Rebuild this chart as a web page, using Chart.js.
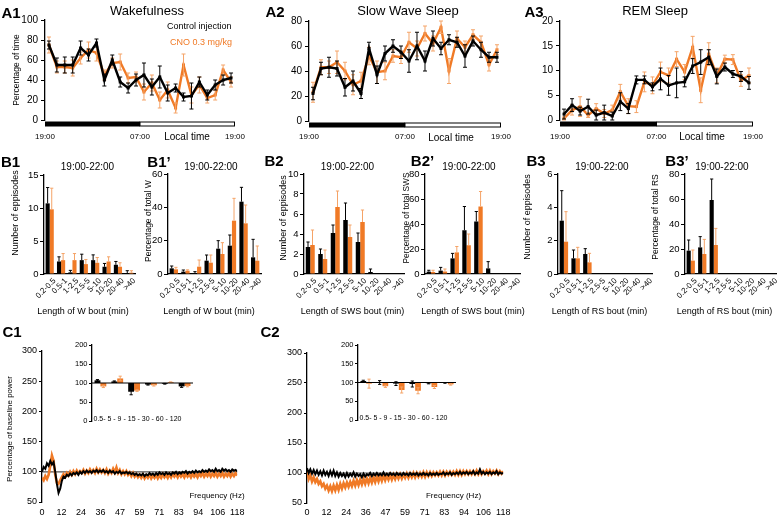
<!DOCTYPE html>
<html><head><meta charset="utf-8">
<script src="https://cdn.jsdelivr.net/npm/chart.js@4.4.1/dist/chart.umd.min.js"></script>
<style>
html,body{margin:0;padding:0;background:#fff;width:777px;height:519px;overflow:hidden;position:relative;font-family:"Liberation Sans",Arial,Helvetica,sans-serif}
.t{position:absolute;white-space:nowrap;line-height:1;color:#000;transform:translate(-50%,-50%);z-index:5}
.l{transform:translate(0,-50%)}
.r{transform:translate(-50%,-50%) rotate(-90deg)}
</style></head><body>
<script>
// ---------------- DATA ----------------
const legendLabels = ['Control injection', 'CNO 0.3 mg/kg'];
const hourLabels = ['19:00','20:00','21:00','22:00','23:00','00:00','01:00','02:00','03:00','04:00','05:00','06:00',
                    '07:00','08:00','09:00','10:00','11:00','12:00','13:00','14:00','15:00','16:00','17:00','18:00'];
const timeTickPos = [0, 12, 24];
const timeTickLabels = ['19:00', '07:00', '19:00'];
const darkPhase = [0, 12, 24];

// A1 Wakefulness (% of time)
const a1Ctrl    = [75,55,55,55,72,65,77,40,60,38,32,40,45,33,43,27,32,23,24,38,25,35,40,42];
const a1CtrlErr = [4,7,8,8,7,6,4,6,5,5,5,6,12,8,11,8,4,4,13,5,5,5,5,5];
const a1Cno     = [75,53,53,52,62,70,67,45,57,58,42,43,28,37,20,30,12,55,25,35,22,25,50,38];
const a1CnoErr  = [8,6,6,8,6,8,8,5,5,8,5,5,8,8,8,8,5,11,8,8,5,5,5,5];
// A2 Slow wave sleep
const a2Ctrl    = [22,42,43,42,27,32,22,58,37,54,60,55,48,60,48,66,58,65,63,52,64,57,51,51];
const a2CtrlErr = [5,5,8,6,7,8,4,5,7,6,5,5,9,11,8,6,5,4,4,9,4,6,4,4];
const a2Cno     = [23,43,43,47,40,29,32,52,39,40,52,51,63,58,70,62,75,40,66,59,69,63,45,57];
const a2CnoErr  = [8,6,5,9,7,8,7,7,9,7,5,5,8,6,6,6,5,10,6,5,4,5,5,4];
// A3 REM sleep
const a3Ctrl    = [1.2,3,1.8,2.7,1,1.5,0.8,3.7,2.3,8.1,8.1,6.7,8.3,7,7.5,7.7,10.9,11.7,12.7,8.8,10.7,9.3,8.8,7.5];
const a3CtrlErr = [1,1.3,0.8,1.5,1,1.5,0.8,1.8,1,0.8,0.8,0.8,2.2,2,3,1,1.5,2.5,1.5,1.5,0.8,0.7,1,1.3];
const a3Cno     = [0.3,2,2.7,1,2.3,1.3,2,5.7,2.8,2.7,7.7,7,9.7,9,12.3,9.7,14.7,6,13.3,9,12.3,12.2,8,9];
const a3CnoErr  = [0.3,1,2,0.5,1,0.8,1,1.5,1.5,1.2,2,1.7,2,1.5,1.5,1.5,2.2,2.5,2.3,1.5,0.8,1,1.2,1.5];

// B bout-length distributions, 19:00-22:00
const boutLabels = ['0.2-0.5','0.5-1','1-2.5','2.5-5','5-10','10-20','20-40','>40'];
const b1Ctrl  = [10.7,1.9,0.25,2.1,2.1,1.1,1.4,0.1];  const b1CtrlErr  = [2.4,0.7,0.3,0.9,0.8,0.5,0.5,0.4];
const b1Cno   = [9.8,2.1,2.1,1.5,1.7,1.9,1.1,0.2];    const b1CnoErr   = [3.2,1.0,1.0,0.7,0.8,0.7,0.6,0.3];
const b1pCtrl = [3.4,1.4,0.2,8,15.2,17,43.4,10];      const b1pCtrlErr = [1.4,1,1.2,3.4,4.8,6.4,8.6,10.8];
const b1pCno  = [2.8,2,4.4,6.8,12,32,30.4,8];         const b1pCnoErr  = [1.2,0.5,4,4.6,6.8,13.4,11,8.8];
const b2Ctrl  = [2.7,2,4.1,5.4,3.2,0.2,0,0];          const b2CtrlErr  = [0.5,0.5,0.8,1.7,0.9,0.3,0,0];
const b2Cno   = [2.9,1.5,6.7,3.7,5.2,0,0,0];          const b2CnoErr   = [1.5,0.9,1.6,1.2,1.2,0,0,0];
const b2pCtrl = [1.9,2.7,12.5,35,42,4.5,0,0];         const b2pCtrlErr = [1.1,2.6,4,19,8,5.4,0,0];
const b2pCno  = [1.6,2,17.3,23,54,0,0,0];             const b2pCnoErr  = [1.4,2,4.7,9,12,0,0,0];
const b3Ctrl  = [3.2,0.94,1.2,0,0,0,0,0];             const b3CtrlErr  = [1.8,0.5,0.32,0,0,0,0,0];
const b3Cno   = [1.94,0.94,0.7,0,0,0,0,0];            const b3CnoErr   = [1.8,0.66,0.54,0,0,0,0,0];
const b3pCtrl = [18.7,21.3,59.2,0,0,0,0,0];           const b3pCtrlErr = [8.5,8.6,16.8,0,0,0,0,0];
const b3pCno  = [10.7,16,23.2,0,0,0,0,0];             const b3pCnoErr  = [8.5,11.7,13.3,0,0,0,0,0];

// C power spectra (% of baseline), 1 Hz bins
const cFreq = [0,1,2,3,4,5,6,7,8,9,10,11,12,13,14,15,16,17,18,19,20,21,22,23,24,25,26,27,28,29,30,31,32,33,34,35,36,37,38,39,
  40,41,42,43,44,45,46,47,48,49,50,51,52,53,54,55,56,57,58,59,60,61,62,63,64,65,66,67,68,69,70,71,72,73,74,75,76,77,78,79,
  80,81,82,83,84,85,86,87,88,89,90,91,92,93,94,95,96,97,98,99,100,101,102,103,104,105,106,107,108,109,110,111,112,113,114,115,116,117,118];
const cTickPos = [0,11.8,23.6,35.4,47.2,59,70.8,82.6,94.4,106.2,118];
const cTickLabels = ['0','12','24','36','47','59','71','83','94','106','118'];
const c1Ctrl = [100,108,105,114,110,118,112,116,100,80, 65,72,85,92,90,95,93,97,94,98, 96,99,95,100,97,101,98,102,99,101,
  98,102,100,103,99,102,100,103,99,101, 98,102,99,101,97,100,98,101,97,99, 98,100,97,99,96,98,95,97,94,96,
  94,97,93,96,94,98,95,97,94,98, 95,99,96,98,95,99,96,98,95,99, 97,100,96,99,97,100,98,101,97,100,
  98,101,98,102,99,101,99,103,100,102, 100,104,101,103,100,105,101,103,100,105, 102,104,101,103,100,104,102,103,101];
const c1Cno = [90,86,93,88,95,110,127,118,95,82, 80,86,91,96,92,98,94,100,95,101, 96,102,97,101,98,103,97,102,98,104,
  99,103,98,105,99,104,99,103,98,104, 97,102,98,105,99,107,98,103,96,101, 96,101,95,99,93,98,92,96,91,95,
  90,95,89,94,90,95,89,94,90,95, 89,94,90,96,91,95,90,96,91,97, 92,96,91,97,92,96,91,97,92,96,
  91,97,92,96,91,97,93,98,92,97, 93,98,92,97,93,98,92,97,93,98, 92,97,93,98,92,97,93,98,94];
const c2Ctrl = [108,100,106,99,105,98,104,97,103,96, 104,97,102,95,103,96,104,95,101,94, 100,95,99,93,100,94,99,95,101,94,
  99,95,98,93,99,94,98,96,100,95, 99,96,100,96,99,96,101,96,99,96, 100,97,99,96,100,97,99,96,100,97,
  99,96,100,97,99,97,100,96,99,97, 100,97,99,96,100,97,99,97,100,97, 99,98,101,97,100,98,101,97,100,98,
  101,98,102,98,101,99,102,98,101,99, 103,98,101,99,106,99,102,98,101,99, 102,98,101,99,103,98,101,99,100];
const c2Cno = [104,90,96,86,93,85,90,82,86,78, 82,74,79,71,78,70,79,71,80,72, 82,74,83,76,84,77,85,78,87,79,
  88,80,89,81,90,82,91,83,92,84, 93,85,94,86,95,87,96,88,96,89, 97,89,97,90,98,91,98,91,98,92,
  99,92,99,93,100,93,100,94,100,94, 101,94,101,95,101,95,101,96,101,96, 102,96,102,96,102,97,102,97,102,97,
  103,97,103,97,103,98,103,98,103,98, 103,98,104,98,104,98,103,99,104,98, 104,98,103,99,104,98,103,99,103];
// C insets: band power (% of baseline)
const insetBands = ['0.5-5','5-9','9-15','15-30','30-60','60-120'];
const insetBandText = '0.5- 5 - 9 - 15 - 30 - 60 - 120';
const insetBase = 100;
const c1InsCtrl = [107,104,77,96,98,91];  const c1InsCtrlErr = [2,1.5,8,1.5,1,2.5];
const c1InsCno  = [91,112,80,94,102,92];  const c1InsCnoErr  = [3,6,2,2,1,2];
const c2InsCtrl = [104,100,97,96,98,99];  const c2InsCtrlErr = [2,5,5,8,1.5,1];
const c2InsCno  = [97,90,80,78,88,95];    const c2InsCnoErr  = [12,3,8,8,4,2];

// ---------------- STYLE / HELPERS ----------------
const FONT = '"Liberation Sans", Arial, Helvetica, sans-serif';
const BLACK = '#000000', ORANGE = '#F07A26', ORANGE_E = '#F5A468';
Chart.defaults.font.family = FONT;
Chart.defaults.color = '#000';

const errPlugin = {
  id: 'errbars',
  afterDatasetDraw(chart, args) {
    const ds = chart.data.datasets[args.index];
    if (!ds.errs) return;
    const ys = chart.scales.y, ctx = chart.ctx;
    ctx.save();
    ctx.strokeStyle = ds.errColor; ctx.lineWidth = ds.errWidth || 1;
    args.meta.data.forEach((el, i) => {
      const e = ds.errs[i]; if (!e) return;
      let v = ds.data[i], base = 0;
      if (Array.isArray(v)) { base = v[0]; v = v[1]; }
      let lo, hi, capLo = true;
      if (ds.errMode === 'both') { lo = v - e; hi = v + e; }
      else if (ds.errMode === 'up') { lo = v; hi = v + e; capLo = false; }
      else { if (v >= base) { lo = v; hi = v + e; capLo = false; } else { lo = v - e; hi = v; capLo = true; } }
      const x = el.x, y1 = ys.getPixelForValue(lo), y2 = ys.getPixelForValue(hi), c = ds.errCap || 2;
      ctx.beginPath();
      ctx.moveTo(x, y1); ctx.lineTo(x, y2);
      if (ds.errMode === 'both' || !capLo) { ctx.moveTo(x - c, y2); ctx.lineTo(x + c, y2); }
      if (ds.errMode === 'both' || capLo) { ctx.moveTo(x - c, y1); ctx.lineTo(x + c, y1); }
      ctx.stroke();
    });
    ctx.restore();
  }
};

const stripPlugin = {
  id: 'strip',
  afterDraw(chart) {
    const xt = chart.scales.xt, ctx = chart.ctx, y = chart.chartArea.bottom + 1.5, h = 5;
    const x0 = xt.getPixelForValue(darkPhase[0]), x1 = xt.getPixelForValue(darkPhase[1]), x2 = xt.getPixelForValue(darkPhase[2]);
    ctx.save();
    ctx.fillStyle = '#000'; ctx.fillRect(x0, y, x1 - x0, h);
    ctx.strokeStyle = '#000'; ctx.lineWidth = 1; ctx.strokeRect(x1, y + 0.5, x2 - x1 - 0.5, h - 1);
    ctx.restore();
  }
};

function rotLabels(dx, dy, size) {
  return { id: 'rotLabels', afterDraw(chart) {
    const xs = chart.scales.x, ctx = chart.ctx;
    ctx.save();
    ctx.font = size + 'px ' + FONT; ctx.fillStyle = '#000';
    ctx.textAlign = 'right'; ctx.textBaseline = 'middle';
    chart.data.labels.forEach((lab, i) => {
      ctx.save();
      ctx.translate(xs.getPixelForValue(i) + dx, chart.chartArea.bottom + dy);
      ctx.rotate(-Math.PI / 4);
      ctx.fillText(lab, 0, 0);
      ctx.restore();
    });
    ctx.restore();
  } };
}

function refLine(val, color, width, before) {
  const draw = chart => {
    const ctx = chart.ctx, a = chart.chartArea, y = chart.scales.y.getPixelForValue(val);
    ctx.save(); ctx.strokeStyle = color; ctx.lineWidth = width;
    ctx.beginPath(); ctx.moveTo(a.left, y); ctx.lineTo(a.right, y); ctx.stroke(); ctx.restore();
  };
  return before ? { id: 'refline', beforeDatasetsDraw: draw } : { id: 'refline', afterDatasetsDraw: draw };
}

function bandText(text, size) {
  return { id: 'bandText', afterDraw(chart) {
    const ctx = chart.ctx, a = chart.chartArea;
    ctx.save(); ctx.font = size + 'px ' + FONT; ctx.fillStyle = '#000';
    ctx.textAlign = 'left'; ctx.textBaseline = 'middle';
    ctx.fillText(text, a.left + 1.5, a.bottom - 2.3); ctx.restore();
  } };
}

function yAx(min, max, step, size, width, pad, tl) {
  return { min, max, position: 'left',
    ticks: { stepSize: step, font: { size }, color: '#000', padding: pad },
    grid: { display: true, drawOnChartArea: false, drawTicks: true, tickLength: tl, color: '#000', lineWidth: 1 },
    border: { display: true, color: '#000', width: 1.3 },
    afterFit(s) { s.width = width; } };
}

function mk(plot, pad, cfg, z) {
  const cv = document.createElement('canvas');
  const w = plot.r - plot.l + pad.l + pad.r, h = plot.b - plot.t + pad.t + pad.b;
  cv.width = w; cv.height = h;
  cv.style.cssText = `position:absolute;left:${plot.l - pad.l}px;top:${plot.t - pad.t}px;width:${w}px;height:${h}px;z-index:${z || 1}`;
  document.body.appendChild(cv);
  cfg.options = Object.assign({ responsive: false, animation: false, devicePixelRatio: 1, events: [],
    layout: { padding: { left: 0, top: pad.t, right: pad.r, bottom: 0 } } }, cfg.options);
  cfg.options.plugins = { legend: { display: false }, tooltip: { enabled: false } };
  return new Chart(cv, cfg);
}

function lineDs(label, data, errs, color, errColor) {
  return { label, data, borderColor: color, backgroundColor: color, borderWidth: 2.4, tension: 0,
    pointStyle: 'rect', pointRadius: 2.1, pointBorderWidth: 0, pointBackgroundColor: color,
    errs, errColor, errMode: 'both', errCap: 2 };
}

function aCfg(ctrl, ctrlE, cno, cnoE, ymax, ystep, xtPad, padB, padL) {
  return { type: 'line',
    data: { labels: hourLabels, datasets: [
      lineDs(legendLabels[0], ctrl, ctrlE, BLACK, BLACK),
      lineDs(legendLabels[1], cno, cnoE, ORANGE, ORANGE_E) ] },
    options: { scales: {
      x: { type: 'category', display: false, offset: true },
      xt: { type: 'linear', position: 'bottom', min: 0, max: 24,
        grid: { display: false, drawTicks: false }, border: { display: false },
        afterBuildTicks(s) { s.ticks = timeTickPos.map(v => ({ value: v })); },
        ticks: { autoSkip: false, maxRotation: 0, minRotation: 0, font: { size: 8 }, color: '#000', padding: xtPad,
          callback: (v, i) => timeTickLabels[i] },
        afterFit(s) { s.height = padB; } },
      y: yAx(0, ymax, ystep, 10, padL, 3, 4) } },
    plugins: [errPlugin, stripPlugin] };
}

function barDs(data, errs, color, errColor, cat, mode) {
  return { data, backgroundColor: color, borderWidth: 0, errs, errColor, errMode: mode, errCap: 1.6,
    barPercentage: 1, categoryPercentage: cat };
}

function bCfg(ctrl, ctrlE, cno, cnoE, ymax, ystep, padL, padB) {
  return { type: 'bar',
    data: { labels: boutLabels, datasets: [
      barDs(ctrl, ctrlE, BLACK, BLACK, 0.72, 'up'),
      barDs(cno, cnoE, ORANGE, ORANGE_E, 0.72, 'up') ] },
    options: { scales: {
      x: { offset: true, grid: { display: false, drawTicks: false }, border: { display: true, color: '#000', width: 1.3 },
        ticks: { display: false }, afterFit(s) { s.height = padB; } },
      y: yAx(0, ymax, ystep, 9.5, padL, 1.5, 4) } },
    plugins: [errPlugin, rotLabels(5, 5.5, 8)] };
}

function cCfg(ctrl, cno, xPad, padB, padL) {
  return { type: 'line',
    data: { datasets: [
      { label: legendLabels[0], data: cFreq.map((f, i) => ({ x: f, y: ctrl[i] })), borderColor: BLACK, borderWidth: 2, pointRadius: 0, tension: 0 },
      { label: legendLabels[1], data: cFreq.map((f, i) => ({ x: f, y: cno[i] })), borderColor: ORANGE, borderWidth: 2.6, pointRadius: 0, tension: 0 } ] },
    options: { scales: {
      x: { type: 'linear', min: 0, max: 118, grid: { display: false, drawTicks: false }, border: { display: false },
        afterBuildTicks(s) { s.ticks = cTickPos.map(v => ({ value: v })); },
        ticks: { autoSkip: false, maxRotation: 0, minRotation: 0, font: { size: 9 }, color: '#000', padding: xPad,
          callback: (v, i) => cTickLabels[i] },
        afterFit(s) { s.height = padB; } },
      y: yAx(50, 300, 50, 9, padL, 2, 3) } },
    plugins: [refLine(100, '#555', 1.2, true)] };
}

function insCfg(ctrl, ctrlE, cno, cnoE, padL, padB) {
  return { type: 'bar',
    data: { labels: insetBands, datasets: [
      barDs(ctrl.map(v => [insetBase, v]), ctrlE, BLACK, BLACK, 0.7, 'both'),
      barDs(cno.map(v => [insetBase, v]), cnoE, ORANGE, ORANGE_E, 0.7, 'both') ] },
    options: { scales: {
      x: { offset: true, grid: { display: false, drawTicks: false }, border: { display: false },
        ticks: { display: false }, afterFit(s) { s.height = padB; } },
      y: yAx(0, 200, 50, 7.5, padL, 1.5, 3) } },
    plugins: [errPlugin, refLine(insetBase, '#000', 1.2, false), bandText(insetBandText, 7)] };
}

// ---------------- CHARTS ----------------
mk({l:45,t:20,r:245,b:120}, {l:45,t:20,r:12,b:30}, aCfg(a1Ctrl,a1CtrlErr,a1Cno,a1CnoErr,100,20,12,30,45));
mk({l:309,t:21,r:510,b:121}, {l:40,t:21,r:12,b:29}, aCfg(a2Ctrl,a2CtrlErr,a2Cno,a2CnoErr,80,20,11,29,40));
mk({l:560,t:21,r:759,b:120}, {l:40,t:21,r:16,b:30}, aCfg(a3Ctrl,a3CtrlErr,a3Cno,a3CnoErr,20,5,12,30,40));

const bPad = {l:24,t:8,r:2,b:30};
mk({l:44,t:175,r:135,b:274}, bPad, bCfg(b1Ctrl,b1CtrlErr,b1Cno,b1CnoErr,15,5,24,30));
mk({l:168,t:174,r:261,b:274}, bPad, bCfg(b1pCtrl,b1pCtrlErr,b1pCno,b1pCnoErr,60,20,24,30));
mk({l:304,t:174,r:404,b:274}, bPad, bCfg(b2Ctrl,b2CtrlErr,b2Cno,b2CnoErr,10,2,24,30));
mk({l:425,t:174,r:520,b:274}, bPad, bCfg(b2pCtrl,b2pCtrlErr,b2pCno,b2pCnoErr,80,20,24,30));
mk({l:558,t:174,r:652,b:274}, bPad, bCfg(b3Ctrl,b3CtrlErr,b3Cno,b3CnoErr,6,2,24,30));
mk({l:685,t:174,r:777,b:274}, {l:24,t:8,r:0,b:30}, bCfg(b3pCtrl,b3pCtrlErr,b3pCno,b3pCnoErr,80,20,24,30));

mk({l:42,t:351,r:242,b:502}, {l:28,t:8,r:8,b:17}, cCfg(c1Ctrl,c1Cno,5.6,17,28));
mk({l:307,t:353,r:507,b:503}, {l:28,t:8,r:8,b:16}, cCfg(c2Ctrl,c2Cno,4.6,16,28));
mk({l:92,t:345,r:193,b:425}, {l:20,t:6,r:2,b:2}, insCfg(c1InsCtrl,c1InsCtrlErr,c1InsCno,c1InsCnoErr,20,2), 2);
mk({l:358,t:345,r:456,b:424}, {l:20,t:6,r:2,b:2}, insCfg(c2InsCtrl,c2InsCtrlErr,c2InsCno,c2InsCnoErr,20,2), 2);

// ---------------- TEXT ----------------
const texts = [
  ['A1',11,11.5,15,'b'], ['Wakefulness',147,9.5,13], [legendLabels[0],167,26,9,'l'], [legendLabels[1],170,41.5,9,'l',ORANGE],
  ['Percentage of time',16,70,8.5,'r'], ['Local time',187,137,10],
  ['A2',275,10.5,15,'b'], ['Slow Wave Sleep',408,9.5,13], ['Local time',451,138,10],
  ['A3',534,10.5,15,'b'], ['REM Sleep',655,9.5,13], ['Local time',702,137,10],
  ['B1',10.5,161,15,'b'], ['19:00-22:00',87.5,167,10], ['Number of eppisodes',15,213,9,'r'], ['Length of W bout (min)',83,310.7,9],
  ['B1\u2019',159,161,15,'b'], ['19:00-22:00',211,167,10], ['Percentage of total W',148.3,221,8.5,'r'], ['Length of W bout (min)',209,310.7,9],
  ['B2',274,160,15,'b'], ['19:00-22:00',347.5,167,10], ['Number of eppisodes',283.3,217.5,9,'r'], ['Length of SWS bout (min)',352.5,310.7,9],
  ['B2\u2019',422.5,160,15,'b'], ['19:00-22:00',469,167,10], ['Percentage of total SWS',405.5,217.5,8.3,'r'], ['Length of SWS bout (min)',473,310.7,9],
  ['B3',536,160,15,'b'], ['19:00-22:00',602,167,10], ['Number of eppisodes',527,217,9,'r'], ['Length of RS bout (min)',599.5,310.7,9],
  ['B3\u2019',677,160,15,'b'], ['19:00-22:00',722,167,10], ['Percentage of total RS',655.3,216.7,8.5,'r'], ['Length of RS bout (min)',724.5,310.7,9],
  ['C1',12,331,15,'b'], ['C2',270,331,15,'b'],
  ['Percentage of baseline power',10,428.5,8,'r'], ['Frequency (Hz)',217,496,8], ['Frequency (Hz)',453.5,496,8]
];
texts.forEach(([s, x, y, size, mode, color]) => {
  const d = document.createElement('div');
  d.className = 't' + (mode === 'r' ? ' r' : mode === 'l' ? ' l' : '');
  d.textContent = s;
  d.style.left = x + 'px'; d.style.top = y + 'px'; d.style.fontSize = size + 'px';
  if (mode === 'b') d.style.fontWeight = 'bold';
  if (color) d.style.color = color;
  document.body.appendChild(d);
});
</script>
</body></html>
